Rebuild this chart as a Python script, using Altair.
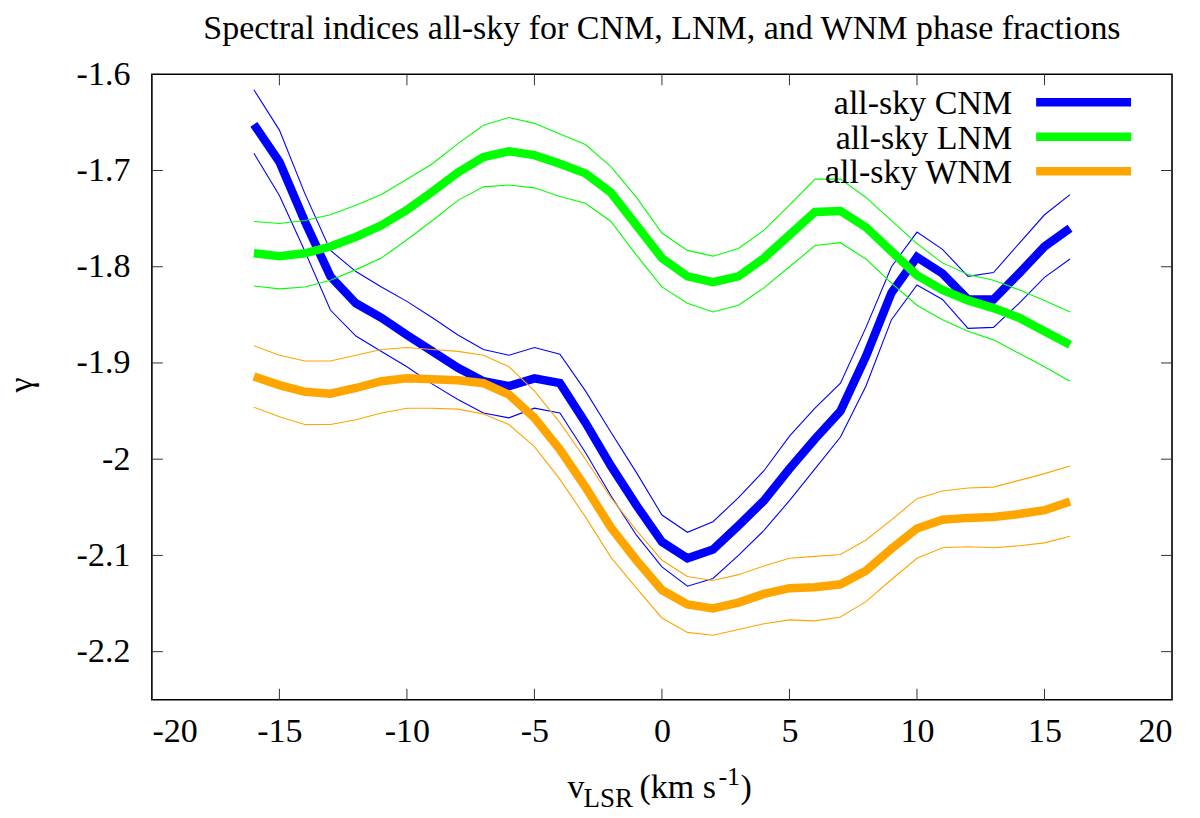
import altair as alt
import pandas as pd

# velocity channels (km/s)
velocity = list(range(-16, 17))

# spectral index gamma: central value, upper and lower envelopes
cnm_mid = [-1.652, -1.691, -1.753, -1.810, -1.838, -1.853, -1.871, -1.888, -1.905, -1.919, -1.924,
           -1.916, -1.921, -1.962, -2.007, -2.048, -2.086, -2.103, -2.094, -2.069, -2.043, -2.010,
           -1.979, -1.950, -1.893, -1.827, -1.790, -1.807, -1.834, -1.834, -1.807, -1.779, -1.760]
cnm_hi = [-1.616, -1.658, -1.724, -1.783, -1.805, -1.821, -1.836, -1.853, -1.871, -1.886, -1.892,
          -1.884, -1.891, -1.929, -1.972, -2.014, -2.058, -2.076, -2.065, -2.040, -2.012, -1.976,
          -1.947, -1.921, -1.863, -1.800, -1.764, -1.782, -1.810, -1.806, -1.776, -1.746, -1.725]
cnm_lo = [-1.682, -1.726, -1.784, -1.845, -1.872, -1.888, -1.904, -1.922, -1.938, -1.952, -1.957,
          -1.947, -1.952, -1.993, -2.038, -2.079, -2.112, -2.132, -2.124, -2.100, -2.074, -2.043,
          -2.010, -1.977, -1.924, -1.855, -1.819, -1.834, -1.864, -1.863, -1.838, -1.811, -1.792]

lnm_mid = [-1.786, -1.789, -1.786, -1.779, -1.769, -1.757, -1.741, -1.722, -1.702, -1.686, -1.680,
           -1.684, -1.693, -1.703, -1.723, -1.757, -1.791, -1.810, -1.816, -1.810, -1.791, -1.767,
           -1.743, -1.742, -1.759, -1.784, -1.809, -1.824, -1.835, -1.843, -1.853, -1.867, -1.881]
lnm_hi = [-1.753, -1.755, -1.752, -1.746, -1.736, -1.725, -1.709, -1.693, -1.672, -1.653, -1.645,
          -1.651, -1.662, -1.673, -1.696, -1.728, -1.765, -1.783, -1.789, -1.781, -1.762, -1.736,
          -1.709, -1.709, -1.728, -1.752, -1.776, -1.796, -1.808, -1.814, -1.824, -1.835, -1.847]
lnm_lo = [-1.820, -1.823, -1.821, -1.814, -1.803, -1.791, -1.772, -1.752, -1.731, -1.717, -1.715,
          -1.718, -1.727, -1.734, -1.753, -1.788, -1.821, -1.838, -1.847, -1.840, -1.822, -1.800,
          -1.778, -1.775, -1.792, -1.817, -1.840, -1.855, -1.867, -1.876, -1.890, -1.904, -1.919]

wnm_mid = [-1.914, -1.923, -1.930, -1.932, -1.926, -1.919, -1.916, -1.917, -1.918, -1.921, -1.933,
           -1.957, -1.990, -2.029, -2.071, -2.105, -2.136, -2.151, -2.155, -2.149, -2.140, -2.134,
           -2.133, -2.130, -2.116, -2.093, -2.072, -2.063, -2.061, -2.060, -2.057, -2.053, -2.044]
wnm_hi = [-1.882, -1.892, -1.898, -1.898, -1.892, -1.886, -1.884, -1.886, -1.888, -1.892, -1.904,
          -1.929, -1.962, -2.000, -2.040, -2.074, -2.105, -2.122, -2.126, -2.120, -2.111, -2.103,
          -2.101, -2.099, -2.084, -2.063, -2.041, -2.033, -2.030, -2.029, -2.022, -2.015, -2.007]
wnm_lo = [-1.946, -1.956, -1.964, -1.964, -1.959, -1.952, -1.947, -1.947, -1.948, -1.953, -1.964,
          -1.987, -2.021, -2.060, -2.102, -2.134, -2.165, -2.180, -2.183, -2.177, -2.171, -2.167,
          -2.168, -2.164, -2.148, -2.125, -2.103, -2.092, -2.091, -2.092, -2.090, -2.087, -2.080]

phases = ["CNM", "LNM", "WNM"]
phase_colors = ["#0000ff", "#00ff00", "#ffa500"]
legend_labels = ["all-sky CNM", "all-sky LNM", "all-sky WNM"]

x_ticks = [-20, -15, -10, -5, 0, 5, 10, 15, 20]
y_ticks = [-1.6, -1.7, -1.8, -1.9, -2.0, -2.1, -2.2]

# x-axis title pieces (text, size) -> v_LSR (km s^-1)
xtitle_text = ["v", "LSR", "(km s", "-1", ")"]
xtitle_size = [34, 27, 34, 26, 34]
y_title = "γ"

FONT = "'Liberation Serif', 'Times New Roman', Times, serif"
FS = 34
W, H = 1021, 626

series = {
    "CNM": {"mid": cnm_mid, "hi": cnm_hi, "lo": cnm_lo},
    "LNM": {"mid": lnm_mid, "hi": lnm_hi, "lo": lnm_lo},
    "WNM": {"mid": wnm_mid, "hi": wnm_hi, "lo": wnm_lo},
}
rows = []
for phase, kinds in series.items():
    for kind, vals in kinds.items():
        for v, g in zip(velocity, vals):
            rows.append({"phase": phase, "kind": kind, "v": v, "gamma": g})
df = pd.DataFrame(rows)

x_enc = alt.X(
    "v:Q",
    scale=alt.Scale(domain=[-20, 20], nice=False, zero=False),
    axis=alt.Axis(values=x_ticks, labelExpr="'' + datum.value", ticks=False, domain=False,
                  grid=False, labelOverlap=False, labelPadding=15, title=None),
)
y_enc = alt.Y(
    "gamma:Q",
    scale=alt.Scale(domain=[-2.25, -1.6], nice=False, zero=False),
    axis=alt.Axis(values=y_ticks, labelExpr="'' + datum.value", ticks=False, domain=False,
                  grid=False, labelOverlap=False, labelPadding=22, title=None),
)

layers = []

# tick marks pointing inward on all four sides
xt = alt.Chart(pd.DataFrame({"v": x_ticks[1:-1]}))
yt = alt.Chart(pd.DataFrame({"gamma": y_ticks[1:]}))
tick_style = dict(color="#333333", strokeWidth=1)
layers.append(xt.mark_rule(**tick_style).encode(x=x_enc, y=alt.value(0), y2=alt.value(11)))
layers.append(xt.mark_rule(**tick_style).encode(x=x_enc, y=alt.value(H - 11), y2=alt.value(H)))
layers.append(yt.mark_rule(**tick_style).encode(y=y_enc, x=alt.value(0), x2=alt.value(11)))
layers.append(yt.mark_rule(**tick_style).encode(y=y_enc, x=alt.value(W - 11), x2=alt.value(W)))

for phase, color in zip(phases, phase_colors):
    sub = df[df["phase"] == phase]
    thin = (
        alt.Chart(sub[sub["kind"] != "mid"])
        .mark_line(color=color, strokeWidth=1.1)
        .encode(x=x_enc, y=y_enc, detail="kind:N")
    )
    thick = (
        alt.Chart(sub[sub["kind"] == "mid"])
        .mark_line(color=color, strokeWidth=8.5, strokeJoin="miter", strokeCap="butt")
        .encode(x=x_enc, y=y_enc)
    )
    layers += [thin, thick]

# legend in the top-right corner
leg = pd.DataFrame({"label": legend_labels, "color": phase_colors, "row": [0, 1, 2]})
leg_base = alt.Chart(leg).transform_calculate(
    ty="40 + 34.5 * datum.row", ly="28 + 34.5 * datum.row"
)
layers.append(
    leg_base.mark_text(align="right", baseline="alphabetic", font=FONT, fontSize=FS, color="black")
    .encode(x=alt.value(861), y=alt.Y("ty:Q", scale=None), text="label:N")
)
layers.append(
    leg_base.mark_rule(strokeWidth=8.5, strokeCap="butt")
    .encode(x=alt.value(885), x2=alt.value(980), y=alt.Y("ly:Q", scale=None),
            color=alt.Color("color:N", scale=None))
)

# x-axis title with subscript and superscript
xt_df = pd.DataFrame({
    "text": xtitle_text,
    "size": xtitle_size,
    "px": [416, 432, 488, 567, 589],
    "py": [724, 733, 724, 711, 724],
})
layers.append(
    alt.Chart(xt_df)
    .mark_text(align="left", baseline="alphabetic", font=FONT, color="black")
    .encode(x=alt.X("px:Q", scale=None), y=alt.Y("py:Q", scale=None),
            text="text:N", size=alt.Size("size:Q", scale=None))
)

# rotated y-axis title
layers.append(
    alt.Chart(pd.DataFrame({"text": [y_title]}))
    .mark_text(angle=270, align="center", baseline="middle", font=FONT, fontSize=FS, color="black")
    .encode(x=alt.value(-130), y=alt.value(311), text="text:N")
)

chart = (
    alt.layer(*layers)
    .properties(
        width=W,
        height=H,
        title=alt.TitleParams(
            "Spectral indices all-sky for CNM, LNM, and WNM phase fractions",
            font=FONT, fontSize=FS, fontWeight="normal", color="black",
            anchor="middle", offset=11,
        ),
        autosize=alt.AutoSizeParams(type="none"),
        padding={"left": 144, "top": 66, "right": 20, "bottom": 112},
    )
    .configure_view(stroke="black", strokeWidth=1.6)
    .configure_axis(labelFont=FONT, labelFontSize=FS, labelColor="black")
)

chart.save("out.html", embed_options={"renderer": "svg", "actions": False})
